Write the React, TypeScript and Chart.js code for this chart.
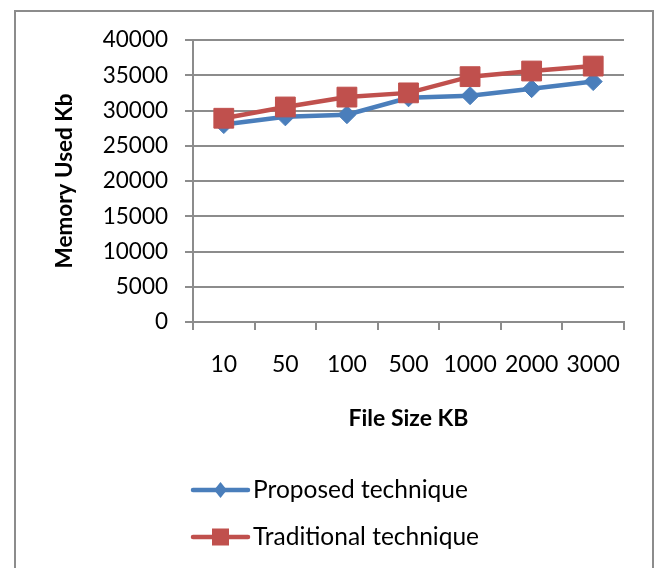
import React, { useEffect, useRef } from "react";
import { Chart, registerables } from "chart.js";

Chart.register(...registerables);

// File sizes (KB) on the category axis
const fileSizes = ["10", "50", "100", "500", "1000", "2000", "3000"];

// Memory used (Kb) per technique
const proposedMemory = [28000, 29100, 29400, 31800, 32100, 33100, 34100];
const traditionalMemory = [28900, 30500, 31900, 32500, 34800, 35600, 36300];

const seriesNames = ["Proposed technique", "Traditional technique"];

const yMin = 0;
const yMax = 40000;
const yStep = 5000;

const FONT = "Lato, 'Open Sans', sans-serif";
const GRID = "#8c8c8c";
const BLUE = "#4a7ebb";
const RED = "#c0504d";

// Vertical legend under the axis title, built from the dataset styles
const stackedLegend = {
  id: "stackedLegend",
  afterDraw(chart: any) {
    const ctx = chart.ctx;
    const x0 = 193;
    const x1 = 248;
    const rows = [490, 537];
    ctx.save();
    chart.data.datasets.forEach((ds: any, i: number) => {
      const y = rows[i];
      ctx.strokeStyle = ds.borderColor;
      ctx.lineWidth = ds.borderWidth;
      ctx.lineCap = "round";
      ctx.beginPath();
      ctx.moveTo(x0, y);
      ctx.lineTo(x1, y);
      ctx.stroke();
      ctx.fillStyle = ds.pointBackgroundColor;
      const cx = (x0 + x1) / 2;
      if (ds.pointStyle === "rectRot") {
        const r = 8;
        ctx.beginPath();
        ctx.moveTo(cx, y - r);
        ctx.lineTo(cx + r * 0.8, y);
        ctx.lineTo(cx, y + r);
        ctx.lineTo(cx - r * 0.8, y);
        ctx.closePath();
        ctx.fill();
      } else {
        const h = 8.5;
        ctx.fillRect(cx - h, y - h, 2 * h, 2 * h);
      }
      ctx.fillStyle = "#000";
      ctx.font = `24.5px ${FONT}`;
      ctx.textAlign = "left";
      ctx.textBaseline = "middle";
      ctx.fillText(ds.label, 253, y);
    });
    ctx.restore();
  },
};

export default function App() {
  const canvasRef = useRef<HTMLCanvasElement | null>(null);

  useEffect(() => {
    if (!canvasRef.current) return;
    const chart = new Chart(canvasRef.current, {
      type: "line",
      data: {
        labels: fileSizes,
        datasets: [
          {
            label: seriesNames[0],
            data: proposedMemory,
            borderColor: BLUE,
            backgroundColor: BLUE,
            pointBackgroundColor: BLUE,
            pointBorderColor: BLUE,
            borderWidth: 4.5,
            pointStyle: "rectRot",
            pointRadius: 9,
            pointBorderWidth: 1,
            tension: 0,
            order: 2,
          },
          {
            label: seriesNames[1],
            data: traditionalMemory,
            borderColor: RED,
            backgroundColor: RED,
            pointBackgroundColor: RED,
            pointBorderColor: RED,
            borderWidth: 4.5,
            pointStyle: "rect",
            pointRadius: 14,
            pointBorderWidth: 1,
            tension: 0,
            order: 1,
          },
        ],
      },
      options: {
        responsive: false,
        animation: false,
        layout: { padding: { left: 0, top: 40, right: 35, bottom: 116 } },
        plugins: {
          legend: { display: false },
          tooltip: { enabled: false },
        },
        scales: {
          x: {
            type: "category",
            offset: true,
            afterFit: (scale: any) => {
              scale.height = 130;
            },
            grid: {
              display: true,
              offset: true,
              drawOnChartArea: false,
              drawTicks: true,
              tickLength: 8,
              color: GRID,
              lineWidth: 2,
            },
            border: { display: true, color: GRID, width: 2 },
            ticks: {
              color: "#000",
              font: { family: FONT, size: 23 },
              padding: 21,
              maxRotation: 0,
              autoSkip: false,
            },
            title: {
              display: true,
              text: "File Size KB",
              color: "#000",
              font: { family: FONT, size: 23, weight: "bold" },
              padding: { top: 0, bottom: 20 },
            },
          },
          y: {
            min: yMin,
            max: yMax,
            afterFit: (scale: any) => {
              scale.width = 193;
            },
            grid: {
              drawTicks: true,
              tickLength: 8,
              color: GRID,
              lineWidth: 2,
            },
            border: { display: true, color: GRID, width: 2 },
            ticks: {
              stepSize: yStep,
              color: "#000",
              font: { family: FONT, size: 22.5 },
              padding: 17,
              callback: (v: any) => String(v),
            },
            title: {
              display: true,
              text: "Memory Used Kb",
              color: "#000",
              font: { family: FONT, size: 22.5, weight: "bold" },
              padding: { top: 51, bottom: 0 },
            },
          },
        },
      },
      plugins: [stackedLegend],
    });
    return () => chart.destroy();
  }, []);

  return (
    <div
      style={{
        position: "absolute",
        left: 0,
        top: 0,
        width: 659,
        height: 568,
        overflow: "hidden",
        background: "#fff",
      }}
    >
      <canvas
        ref={canvasRef}
        width={659}
        height={568}
        style={{ position: "absolute", left: 0, top: 0 }}
      />
      <div
        style={{
          position: "absolute",
          left: 14,
          top: 10,
          width: 640,
          height: 558,
          boxSizing: "border-box",
          border: `2px solid ${GRID}`,
          borderBottom: "none",
          pointerEvents: "none",
        }}
      />
    </div>
  );
}
